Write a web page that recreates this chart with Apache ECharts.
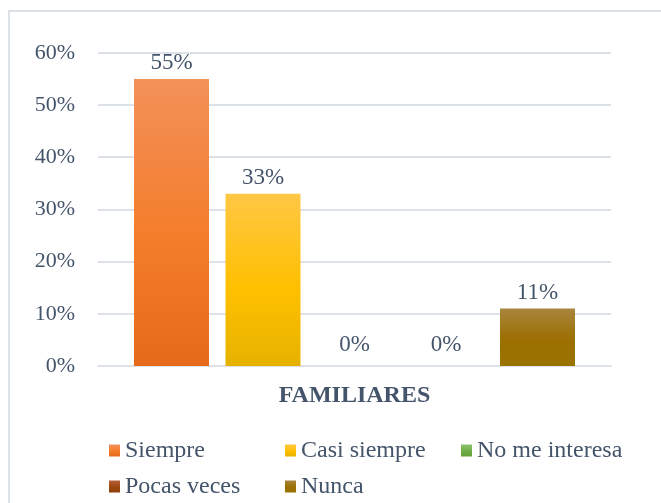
<!DOCTYPE html>
<html>
<head>
<meta charset="utf-8">
<script src="https://cdn.jsdelivr.net/npm/echarts@6/dist/echarts.min.js"></script>
<style>html,body{margin:0;padding:0;background:#fff;}#c{width:661px;height:503px;}</style>
</head>
<body>
<div id="c"></div>
<script>
var categories = ['FAMILIARES'];
var seriesNames = ['Siempre', 'Casi siempre', 'No me interesa', 'Pocas veces', 'Nunca'];
var seriesValues = [55, 33, 0, 0, 11];
var yTicks = [0, 10, 20, 30, 40, 50, 60];

var gradients = [
  ['#F2915A', '#F47D2A', '#E56B1A'],
  ['#FFC745', '#FFC000', '#E6B200'],
  ['#8BC26B', '#70AD47', '#62A039'],
  ['#B0603A', '#9E480E', '#8E3F0B'],
  ['#A8853E', '#9C6F00', '#997300']
];
function grad(c) {
  return new echarts.graphic.LinearGradient(0, 0, 0, 1, [
    {offset: 0, color: c[0]}, {offset: 0.55, color: c[1]}, {offset: 1, color: c[2]}
  ]);
}
var txt = '#44546A';
var font = 'Liberation Serif, Times New Roman, serif';

var series = seriesNames.map(function (n, i) {
  var v = seriesValues[i];
  return {
    name: n, type: 'bar', barWidth: 75, barGap: '22%',
    itemStyle: {color: grad(gradients[i])},
    label: {show: true, position: 'top', distance: v === 0 ? 10 : 4, formatter: '{c}%',
      color: txt, fontFamily: font, fontSize: 23, lineHeight: 23},
    data: [v]
  };
});

var legendPos = [[109, 437], [285, 437], [461, 437], [109, 473], [285, 473]];
var legends = seriesNames.map(function (n, i) {
  return {
    data: [n], left: legendPos[i][0], top: legendPos[i][1], icon: 'rect',
    itemWidth: 11, itemHeight: 12, padding: 0,
    textStyle: {color: txt, fontFamily: font, fontSize: 24, lineHeight: 27}
  };
});

var chart = echarts.init(document.getElementById('c'), null, {renderer: 'canvas'});
chart.setOption({
  animation: false,
  backgroundColor: '#fff',
  graphic: [{type: 'rect', shape: {x: 9, y: 11, width: 700, height: 600},
    style: {fill: 'none', stroke: '#DDE2E9', lineWidth: 2}, silent: true}],
  grid: {left: 98, right: 50, top: 52.8, bottom: 137},
  legend: legends,
  xAxis: {type: 'category', data: categories,
    axisLine: {lineStyle: {color: '#DDE2E9', width: 2}}, axisTick: {show: false},
    axisLabel: {color: txt, fontFamily: font, fontSize: 24, fontWeight: 'bold', margin: 18}},
  yAxis: {type: 'value', min: yTicks[0], max: yTicks[yTicks.length - 1], interval: 10,
    axisLine: {show: false}, axisTick: {show: false},
    splitLine: {lineStyle: {color: '#DDE2E9', width: 2}},
    axisLabel: {color: txt, fontFamily: font, fontSize: 22, margin: 23, formatter: '{value}%'}},
  series: series
});
</script>
</body>
</html>
